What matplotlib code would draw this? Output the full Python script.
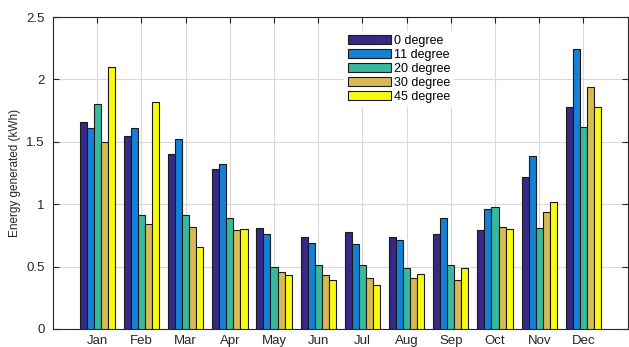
import numpy as np
import matplotlib.pyplot as plt

plt.rcParams['font.family'] = ['Liberation Sans', 'DejaVu Sans']

months = ['Jan', 'Feb', 'Mar', 'Apr', 'May', 'Jun', 'Jul', 'Aug', 'Sep', 'Oct', 'Nov', 'Dec']
deg0 = [1.66, 1.55, 1.40, 1.28, 0.81, 0.74, 0.78, 0.74, 0.76, 0.79, 1.22, 1.78]
deg11 = [1.61, 1.61, 1.52, 1.32, 0.76, 0.69, 0.68, 0.71, 0.89, 0.96, 1.39, 2.24]
deg20 = [1.80, 0.91, 0.91, 0.89, 0.50, 0.51, 0.51, 0.49, 0.51, 0.98, 0.81, 1.62]
deg30 = [1.50, 0.84, 0.82, 0.79, 0.46, 0.43, 0.41, 0.41, 0.39, 0.82, 0.94, 1.94]
deg45 = [2.10, 1.82, 0.66, 0.80, 0.43, 0.39, 0.35, 0.44, 0.49, 0.80, 1.02, 1.78]
labels = ['0 degree', '11 degree', '20 degree', '30 degree', '45 degree']
colors = ['#352a87', '#1481d6', '#38b99e', '#d7ba55', '#f9fb0e']

series = [deg0, deg11, deg20, deg30, deg45]
x = np.arange(1, len(months) + 1)
w = 0.16

fig = plt.figure(figsize=(6.29, 3.47), dpi=100)
ax = fig.add_axes([0.0843, 0.052, 0.9135, 0.899])

for i, (vals, lab, c) in enumerate(zip(series, labels, colors)):
    ax.bar(x + (i - 2) * w, vals, w, color=c, edgecolor='#1a1a1a',
           linewidth=0.8, label=lab, zorder=3)

ax.set_xlim(0, 13)
ax.set_ylim(0, 2.5)
ax.set_xticks(x)
ax.set_xticklabels(months)
ax.set_yticks([0, 0.5, 1, 1.5, 2, 2.5])
ax.set_yticklabels(['0', '0.5', '1', '1.5', '2', '2.5'])
ax.tick_params(direction='in', top=True, right=True, length=4, width=0.8,
               labelsize=9.5, colors='#262626')
ax.tick_params(axis='x', pad=4)
ax.tick_params(axis='y', pad=6)
ax.grid(True, color='#d9d9d9', linewidth=0.8, zorder=0)
ax.set_axisbelow(True)
for s in ax.spines.values():
    s.set_color('#262626')
    s.set_linewidth(0.8)
ax.set_ylabel('Energy generated (kWh)', fontsize=8.5, color='#262626', labelpad=4)

leg = ax.legend(loc='upper left', bbox_to_anchor=(0.507, 0.955), fontsize=9,
                handlelength=3.4, handleheight=0.8, labelspacing=0.15,
                handletextpad=0.3, borderpad=0.3, borderaxespad=0,
                frameon=True, fancybox=False, framealpha=1)
leg.get_frame().set_edgecolor('white')
leg.get_frame().set_linewidth(0)

fig.savefig('out.png', dpi=100)
